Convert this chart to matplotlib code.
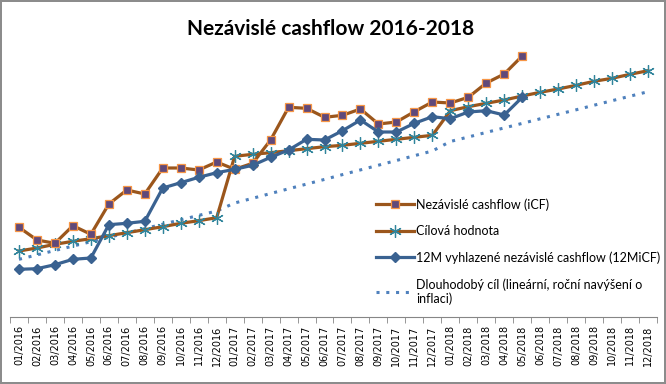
import numpy as np
import matplotlib
matplotlib.use("Agg")
import matplotlib.pyplot as plt

# mesice 01/2016 - 12/2018
mesice = ["%02d/%d" % (m, r) for r in (2016, 2017, 2018) for m in range(1, 13)]

# hodnoty (bez jednotek, osa y neni zobrazena)
icf = [92.7, 80.0, 76.7, 94.3, 85.7, 116.0, 130.0, 126.0, 152.0, 152.0, 150.0, 158.0,
       150.7, 156.7, 180.0, 212.7, 211.7, 202.7, 204.7, 211.0, 196.0, 198.0, 208.3, 218.0,
       217.0, 222.7, 237.0, 246.0, 264.0]
cil = [69.0, 72.0, 75.7, 78.7, 81.3, 84.3, 87.3, 90.3, 93.3, 96.7, 99.3, 102.3,
       163.7, 165.7, 167.3, 169.3, 171.3, 173.3, 174.7, 176.7, 178.7, 180.7, 182.7, 184.7,
       209.3, 213.3, 216.7, 220.0, 224.0, 227.7, 231.0, 234.7, 238.7, 241.7, 245.7, 249.3]
icf12 = [50.7, 51.3, 55.3, 60.7, 62.0, 95.3, 96.7, 98.7, 132.0, 137.3, 142.7, 147.3,
         150.7, 154.7, 162.7, 170.0, 180.7, 180.0, 189.3, 200.0, 188.0, 188.0, 196.7, 203.3,
         201.3, 208.0, 209.3, 205.0, 222.7]
dlouhodoby = [60.7, 65.1, 69.5, 73.9, 78.3, 82.7, 87.0, 91.4, 95.8, 100.2, 104.6, 109.0,
              117.0, 121.7, 126.5, 131.2, 135.9, 140.6, 145.4, 150.1, 154.8, 159.5, 164.3, 169.0,
              178.5, 183.0, 187.6, 192.1, 196.6, 201.2, 205.7, 210.2, 214.8, 219.3, 223.8, 228.3]

hneda = "#9B561C"
modra = "#3A6291"

fig = plt.figure(figsize=(6.66, 3.84), dpi=100)
fig.patch.set_edgecolor("#8C8C8C")
fig.patch.set_linewidth(1.5)
ax = fig.add_axes([10 / 666, 67 / 384, 647 / 666, 272 / 384])

x = np.arange(len(mesice))
ax.plot(x[:len(icf)], icf, color=hneda, lw=2.3, marker="s", ms=5.5,
        mfc="#60497A", mec="#F79646", mew=0.9, label="Nezávislé cashflow (iCF)", zorder=4)
ax.plot(x, cil, color=hneda, lw=2.3, marker=(6, 2, 0), ms=9, mec="#31859C", mew=0.9,
        label="Cílová hodnota", zorder=3)
ax.plot(x[:len(icf12)], icf12, color=modra, lw=2.3, marker="D", ms=5.5,
        mfc=modra, mec=modra, label="12M vyhlazené nezávislé cashflow (12MiCF)", zorder=5)
ax.plot(x, dlouhodoby, color="#4F81BD", lw=2.2, ls=(0, (1, 2.2)),
        label="Dlouhodobý cíl (lineární, roční navýšení o\ninflaci)", zorder=2)

ax.set_xlim(-0.5, len(mesice) - 0.5)
ax.set_ylim(3, 275)
ax.set_xticks(x)
ax.set_xticklabels(mesice, rotation=90, fontsize=7, family="DejaVu Sans")
ax.set_xticks(np.arange(-0.5, len(mesice)), minor=True)
ax.tick_params(axis="x", which="major", length=0, pad=6)
ax.tick_params(axis="x", which="minor", length=4, color="#868686")
ax.set_yticks([])
for s in ("left", "right", "top"):
    ax.spines[s].set_visible(False)
ax.spines["bottom"].set_color("#868686")

fig.text(0.497, 0.925, "Nezávislé cashflow 2016-2018", ha="center", va="center",
         fontsize=15, fontweight="bold", family="Lato")

leg = ax.legend(loc="upper left", bbox_to_anchor=(371 / 666, 1 - 193 / 384),
                bbox_transform=fig.transFigure, frameon=False,
                prop={"family": "Lato", "size": 9}, handlelength=3.0,
                handletextpad=0.2, labelspacing=1.15, borderaxespad=0)

fig.savefig("out.png", dpi=100)
